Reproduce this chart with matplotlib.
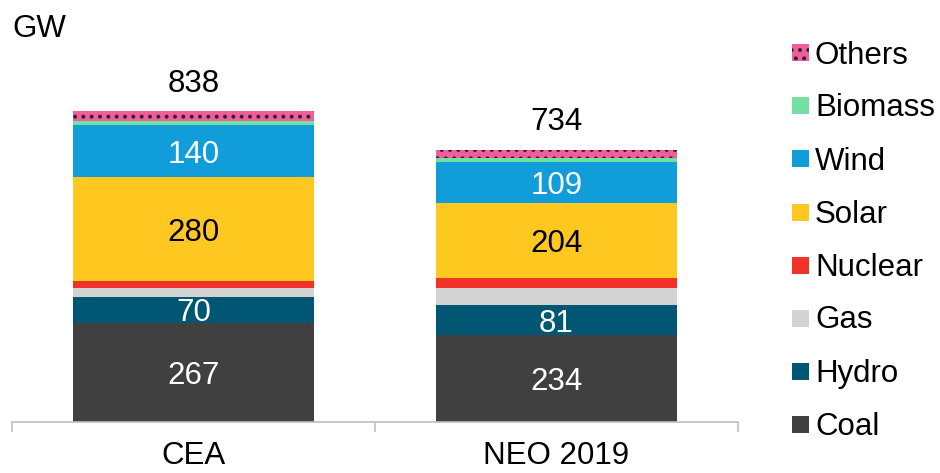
import matplotlib
matplotlib.use('Agg')
import matplotlib.pyplot as plt
from matplotlib.patches import Rectangle
import numpy as np

plt.rcParams['font.family'] = ['Liberation Sans', 'DejaVu Sans']
plt.rcParams['hatch.linewidth'] = 1.6

scenarios = ["CEA", "NEO 2019"]
sources = ["Coal", "Hydro", "Gas", "Nuclear", "Solar", "Wind", "Biomass", "Others"]
coal = [267, 234]
hydro = [70, 81]
gas = [25, 46]
nuclear = [18, 26]
solar = [280, 204]
wind = [140, 109]
biomass = [10, 12]
others = [28, 22]
totals = [838, 734]

colors = ["#404040", "#005673", "#D3D3D3", "#F03228",
          "#FFC820", "#109DDA", "#72E0A0", "#F25C9A"]
# only the big segments carry a number, in these colours
label_colors = {"Coal": "white", "Hydro": "white", "Solar": "black", "Wind": "white"}

series = [coal, hydro, gas, nuclear, solar, wind, biomass, others]
FS = 22.5

W, H = 940, 473
fig = plt.figure(figsize=(W / 100, H / 100), dpi=100)
ax = fig.add_axes([12 / W, 51 / H, 726 / W, 371 / H])

x = np.arange(len(scenarios))
width = 0.664
bottom = np.zeros(len(scenarios))
for name, vals, col in zip(sources, series, colors):
    vals = np.array(vals, dtype=float)
    if name == "Others":
        ax.bar(x, vals, width, bottom=bottom, color=col,
               edgecolor="#262626", linewidth=0, hatch="..")
    else:
        ax.bar(x, vals, width, bottom=bottom, color=col, linewidth=0)
    if name in label_colors:
        for xi, b, v in zip(x, bottom, vals):
            ax.text(xi, b + v / 2, f"{int(v)}", ha="center", va="center_baseline",
                    fontsize=FS, color=label_colors[name])
    bottom += vals

for xi, t in zip(x, totals):
    ax.annotate(f"{t}", xy=(xi, t), xytext=(0, 14), textcoords="offset points",
                ha="center", va="baseline", fontsize=FS)

ax.set_xlim(-0.5, 1.5)
ax.set_ylim(0, 1000)
for s in ["left", "right", "top"]:
    ax.spines[s].set_visible(False)
ax.spines["bottom"].set_color("#BFBFBF")
ax.spines["bottom"].set_linewidth(1.2)
ax.set_yticks([])

# boundary ticks, labels sit on the minor ticks at bar centres
ax.set_xticks([-0.5, 0.5, 1.5])
ax.set_xticklabels([])
ax.tick_params(axis="x", which="major", length=7.5, color="#BFBFBF", width=1.2)
ax.set_xticks(x, minor=True)
ax.set_xticklabels(scenarios, minor=True, fontsize=FS)
ax.tick_params(axis="x", which="minor", length=0, pad=14)

fig.text(12 / W, 1 - 37 / H, "GW", fontsize=FS, va="baseline", ha="left")

# legend, top entry first
for i, (name, col) in enumerate(zip(sources[::-1], colors[::-1])):
    cy = 53 + 53 * i
    hatch = ".." if name == "Others" else None
    fig.patches.append(Rectangle((792 / W, 1 - (cy + 8.5) / H), 17 / W, 17 / H,
                                 transform=fig.transFigure, facecolor=col,
                                 edgecolor="#262626", linewidth=0, hatch=hatch))
    fig.text(815 / W, 1 - (cy + 10.5) / H, name, fontsize=FS,
             va="baseline", ha="left")

plt.savefig("out.png", dpi=100)
